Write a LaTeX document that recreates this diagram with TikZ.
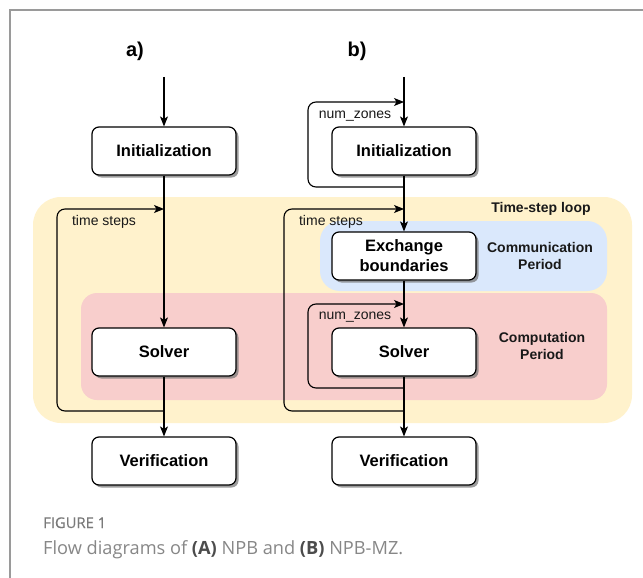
\documentclass[tikz,border=0pt]{standalone}
\usepackage{fontspec}
\setmainfont{Liberation Sans}
\newfontfamily\capfont{Open Sans}
\usetikzlibrary{arrows.meta,shadows}

\definecolor{loopfill}{HTML}{FFF2CC}
\definecolor{commfill}{HTML}{DAE8FC}
\definecolor{compfill}{HTML}{F8CECC}
\definecolor{framegray}{HTML}{9A9A9A}
\definecolor{capgray}{HTML}{7A7A7A}

\tikzset{
  stepbox/.style={draw=black, line width=1.2pt, fill=white, rounded corners=7pt,
    minimum width=144pt, minimum height=48pt, align=center,
    font=\fontsize{16.5}{20}\selectfont\bfseries,
    drop shadow={shadow xshift=2.5pt, shadow yshift=-2.5pt, fill=black!55, opacity=0.7}},
  flow/.style={line width=1.1pt, -{Stealth[length=10pt,width=8pt,inset=2.5pt]}},
  loopline/.style={line width=1.1pt, rounded corners=8pt, -{Stealth[length=10pt,width=8pt,inset=2.5pt]}},
  looplabel/.style={font=\fontsize{14}{16}\selectfont, text=black!90},
  phaselabel/.style={font=\fontsize{14}{17.5}\selectfont\bfseries, align=center, text=black!90},
  panel/.style={font=\fontsize{20}{24}\selectfont\bfseries}
}

\begin{document}
\begin{tikzpicture}[x=1pt, y=-1pt]
  % canvas
  \path[fill=white] (0,0) rectangle (643,578);
  \useasboundingbox (0,0) rectangle (643,578);
  \draw[framegray, line width=1.6pt] (10,578) -- (10,10) -- (643,10);

  % coloured phases
  \fill[loopfill, rounded corners=28pt] (33,197) rectangle (632,423);
  \fill[commfill, rounded corners=20pt] (320,221) rectangle (607,291);
  \fill[compfill, rounded corners=16pt] (81,293) rectangle (607,400);

  \node[phaselabel] (tsl) at (541,209) {Time-step loop};
  \node[phaselabel] (comm) at (540,256) {Communication\\Period};
  \node[phaselabel] (comp) at (542,346) {Computation\\Period};

  % panel titles
  \node[panel] (pa) at (135,51) {a)};
  \node[panel] (pb) at (357,51) {b)};

  % boxes, panel a
  \node[stepbox] (initA) at (164,151) {Initialization};
  \node[stepbox] (solvA) at (164,352) {Solver};
  \node[stepbox] (verA)  at (164,461) {Verification};

  % boxes, panel b
  \node[stepbox] (initB) at (404,151) {Initialization};
  \node[stepbox] (exB)   at (404,256) {Exchange\\boundaries};
  \node[stepbox] (solvB) at (404,352) {Solver};
  \node[stepbox] (verB)  at (404,461) {Verification};

  % entry points and loop joints
  \coordinate (inA) at (164,77);
  \coordinate (inB) at (404,77);
  \coordinate (tsInA) at (164,209);
  \coordinate (tsOutA) at (164,411);
  \coordinate (tsCornerA) at (57,209);
  \coordinate (tsInB) at (404,209);
  \coordinate (tsOutB) at (404,411);
  \coordinate (tsCornerB) at (284,209);
  \coordinate (nzInB) at (404,102);
  \coordinate (nzOutB) at (404,187);
  \coordinate (nzCornerB) at (308,102);
  \coordinate (nzInS) at (404,304);
  \coordinate (nzOutS) at (404,388);
  \coordinate (nzCornerS) at (308,304);

  % panel a flow
  \draw[flow] (inA) -- (initA.north);
  \draw[flow] (initA.south) -- (solvA.north);
  \draw[flow] (solvA.south) -- (verA.north);
  \draw[loopline] (tsOutA) -| (tsCornerA) -- (tsInA);
  \node[looplabel] (tsLabA) at (104,222) {time steps};

  % panel b flow
  \draw[flow] (inB) -- (initB.north);
  \draw[flow] (initB.south) -- (exB.north);
  \draw[flow] (exB.south) -- (solvB.north);
  \draw[flow] (solvB.south) -- (verB.north);
  \draw[loopline] (nzOutB) -| (nzCornerB) -- (nzInB);
  \draw[loopline] (tsOutB) -| (tsCornerB) -- (tsInB);
  \draw[loopline] (nzOutS) -| (nzCornerS) -- (nzInS);
  \node[looplabel] (nzLabB) at (355,116) {num\_zones};
  \node[looplabel] (tsLabB) at (331,222) {time steps};
  \node[looplabel] (nzLabS) at (355,317) {num\_zones};

  % caption
  \node[anchor=base west, inner sep=0pt, text=capgray, font=\capfont\fontsize{14.8}{17}\selectfont\addfontfeatures{FakeBold=0.3}] (figno) at (43,528) {FIGURE 1};
  \node[anchor=base west, inner sep=0pt, text=capgray!90, font=\capfont\fontsize{18.2}{22}\selectfont] (cap) at (43,554)
    {Flow diagrams of {\color{black!70}\bfseries(A)} NPB and {\color{black!70}\bfseries(B)} NPB-MZ.};
\end{tikzpicture}
\end{document}
